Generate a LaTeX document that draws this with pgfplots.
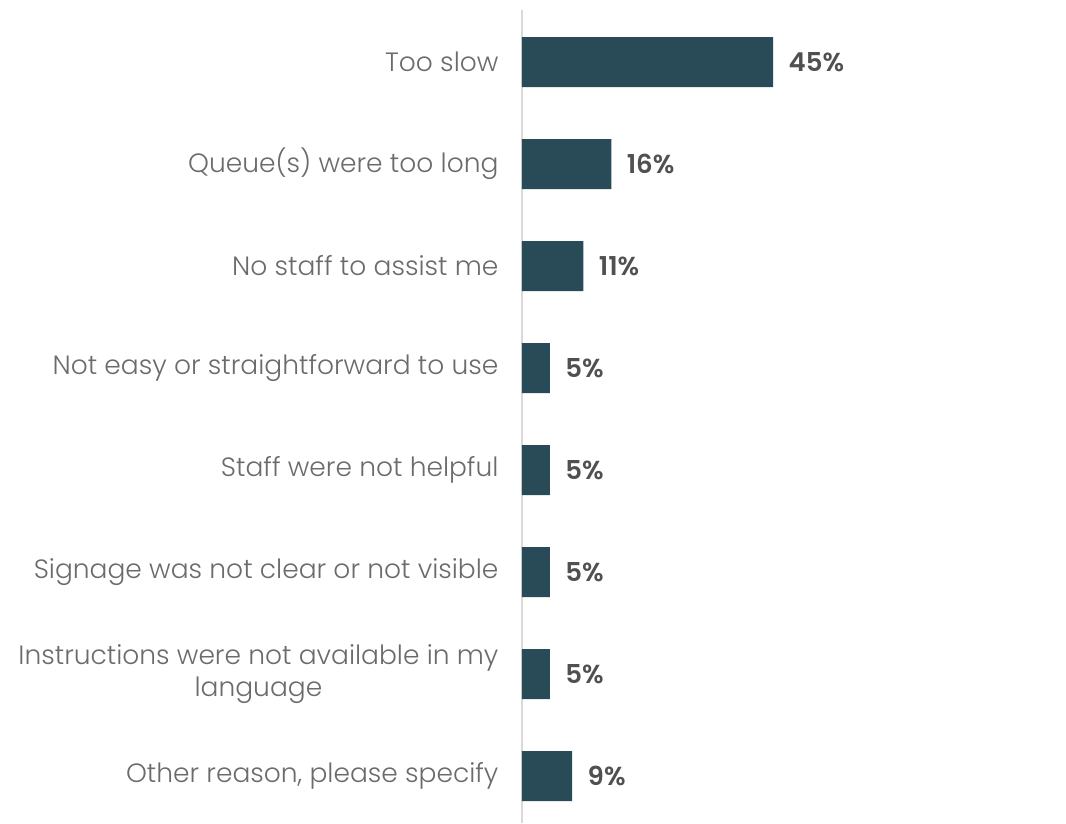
\documentclass[border=0pt]{standalone}
\usepackage{pgfplots}
\pgfplotsset{compat=1.18}
\usepackage{fontspec}
\setmainfont{Poppins}[UprightFont=* Light, BoldFont=* SemiBold]
\definecolor{barc}{HTML}{284B57}
\definecolor{lbl}{HTML}{6B6B6B}
\definecolor{val}{HTML}{505050}
\definecolor{axc}{HTML}{D9D9D9}
\begin{document}
\begin{tikzpicture}
\begin{axis}[
  name=ax,
  scale only axis,
  width=544pt, height=813pt,
  xbar, bar width=50pt,
  xmin=0, xmax=97.5,
  ymin=-0.46, ymax=7.51,
  axis x line=none,
  axis y line*=left,
  y axis line style={axc, line width=1.8pt, -},
  ytick={0,...,7},
  yticklabels={{Other reason, please specify},
    {Instructions were not available in my\\language},
    Signage was not clear or not visible,
    Staff were not helpful,
    Not easy or straightforward to use,
    No staff to assist me,
    Queue(s) were too long,
    Too slow},
  yticklabel style={font=\fontsize{26.5}{32}\selectfont, text=lbl, align=center},
  major tick length=0pt,
  tick style={draw=none},
  every y tick label/.append style={xshift=-20pt},
  point meta=x,
  /pgf/number format/assume math mode=true,
  nodes near coords={\pgfmathprintnumber{\pgfplotspointmeta}\%},
  nodes near coords style={font=\bfseries\fontsize{26}{30}\selectfont, text=val, anchor=west, xshift=12pt},
  clip=false,
]
\addplot[fill=barc, draw=none] coordinates {
  (9,0) (5,1) (5,2) (5,3) (5,4) (11,5) (16,6) (45,7)
};
\end{axis}
\pgfresetboundingbox
\path (ax.south west) ++(-522pt,0) rectangle ([yshift=10pt]ax.north east);
\end{tikzpicture}
\end{document}
